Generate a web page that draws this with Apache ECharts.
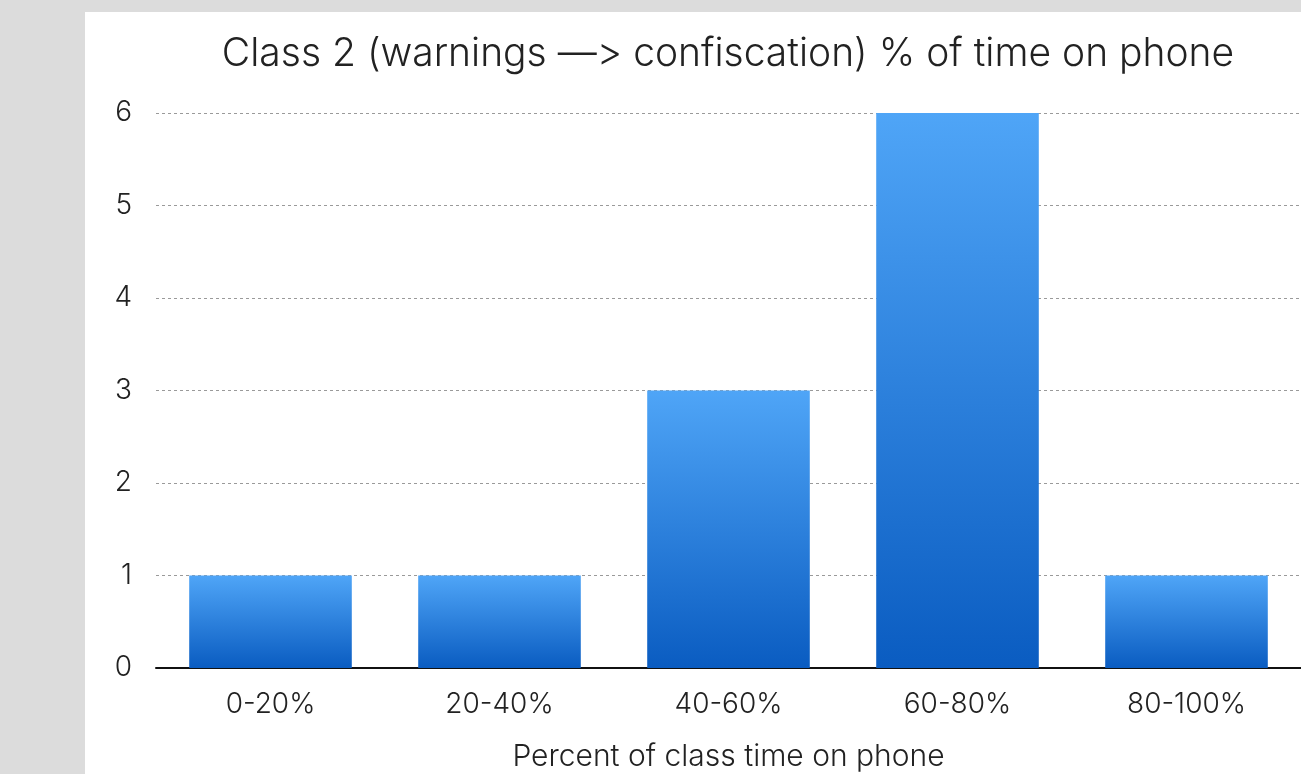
<!DOCTYPE html>
<html>
<head>
<meta charset="utf-8">
<script src="https://cdn.jsdelivr.net/npm/echarts@6/dist/echarts.min.js"></script>
<style>
  html, body { margin: 0; padding: 0; background: #dcdcdc; }
  #panel { position: absolute; left: 85px; top: 12px; width: 1216px; height: 762px; background: #ffffff; }
  #chart { position: absolute; left: 0; top: 0; width: 1301px; height: 774px; }
</style>
</head>
<body>
<div id="panel"></div>
<div id="chart"></div>
<script>
// Histogram of students by share of class time spent on the phone
// (the zero-width non-joiner keeps the em dash and ">" from fusing into an arrow glyph)
const titleText = 'Class 2 (warnings \u2014\u200C> confiscation) % of time on phone';
const xAxisName = 'Percent of class time on phone';
const categories = ['0-20%', '20-40%', '40-60%', '60-80%', '80-100%'];
const counts = [1, 1, 3, 6, 1];
const yTicks = [0, 1, 2, 3, 4, 5, 6];

const FONT = 'Inter, "Liberation Sans", Arial, sans-serif';
const chart = echarts.init(document.getElementById('chart'), null, { width: 1301, height: 774 });

chart.setOption({
  animation: false,
  grid: { left: 156, right: 0, top: 113, bottom: 106, containLabel: false, outerBoundsMode: 'none' },
  graphic: [{
    type: 'text',
    x: 728, y: 54,
    style: {
      text: titleText,
      fontFamily: FONT,
      fontSize: 39,
      fontWeight: 300,
      fill: '#222',
      textAlign: 'center',
      textVerticalAlign: 'middle'
    }
  }],
  xAxis: {
    type: 'category',
    data: categories,
    name: xAxisName,
    nameLocation: 'middle',
    nameGap: 74,
    nameTextStyle: { fontFamily: FONT, fontSize: 30, fontWeight: 300, color: '#222' },
    axisLine: { lineStyle: { color: '#111', width: 2 } },
    axisTick: { show: false },
    axisLabel: { fontFamily: FONT, fontSize: 28, fontWeight: 300, color: '#222', margin: 23 }
  },
  yAxis: {
    type: 'value',
    min: yTicks[0],
    max: yTicks[yTicks.length - 1],
    interval: 1,
    axisLine: { show: false },
    axisTick: { show: false },
    axisLabel: { fontFamily: FONT, fontSize: 28, fontWeight: 300, color: '#222', margin: 24, padding: [4, 0, 0, 0] },
    splitLine: { lineStyle: { color: '#9a9a9a', type: [3, 3], width: 1 } }
  },
  series: [{
    type: 'bar',
    data: counts,
    barCategoryGap: '29%',
    itemStyle: {
      color: new echarts.graphic.LinearGradient(0, 0, 0, 1, [
        { offset: 0, color: '#4fa5f7' },
        { offset: 1, color: '#0a5cc1' }
      ])
    }
  }]
});
</script>
</body>
</html>
